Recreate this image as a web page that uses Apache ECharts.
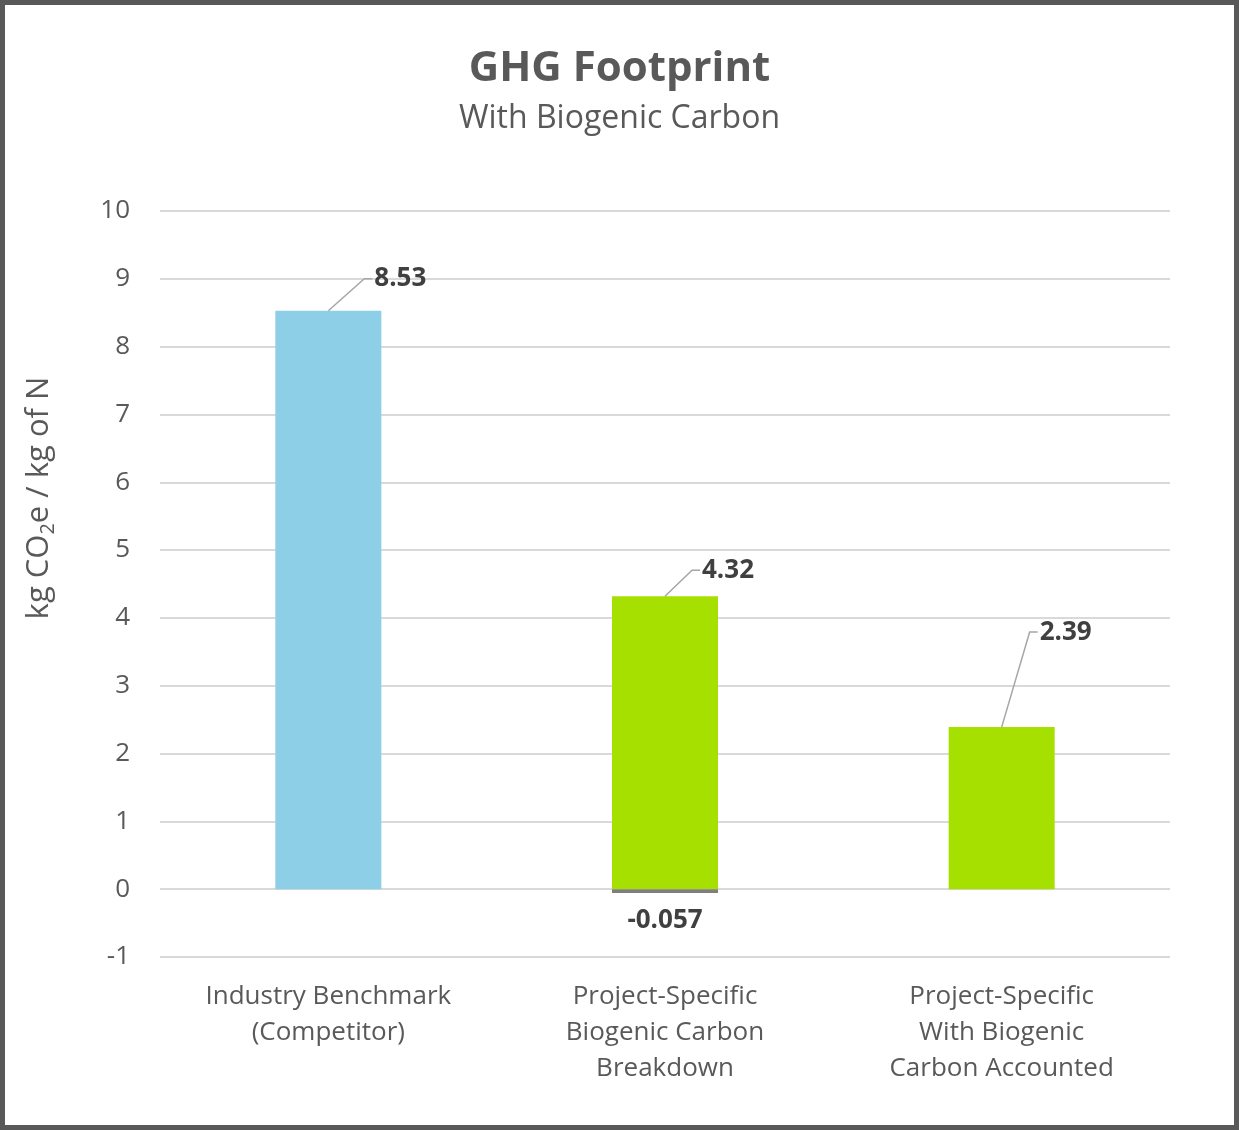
<!DOCTYPE html>
<html lang="en">
<head>
    <meta charset="UTF-8">
    <title>GHG Footprint</title>
    <script src="https://cdn.jsdelivr.net/npm/echarts@6/dist/echarts.min.js"></script>
    <style>
        html, body { margin: 0; padding: 0; background: #fff; }
        #chart { width: 1239px; height: 1130px; }
    </style>
</head>
<body>
<div id="chart"></div>
<script>
    // data
    const categories = [
        'Industry Benchmark\n(Competitor)',
        'Project-Specific\nBiogenic Carbon\nBreakdown',
        'Project-Specific\nWith Biogenic\nCarbon Accounted'
    ];
    const mainValues = [8.53, 4.32, 2.39];
    const biogenicValues = [null, -0.057, null];
    const barColors = ['#8ccfe6', '#a5e000', '#a5e000'];
    // label offset from the bar's top centre (px)
    const labelShift = [[46, -32], [37, -26], [38, -95]];

    const textColor = '#595959';
    const fontFamily = '"Open Sans", sans-serif';

    let chart = echarts.init(document.getElementById('chart'));

    let option = {
        animation: false,
        backgroundColor: '#fff',
        textStyle: { fontFamily: fontFamily },
        title: {
            text: 'GHG Footprint',
            subtext: 'With Biogenic Carbon',
            left: 'center',
            top: 45,
            padding: 0,
            itemGap: 7,
            textStyle: { fontSize: 42, fontWeight: 'bold', color: textColor, lineHeight: 48, fontFamily: fontFamily },
            subtextStyle: { fontSize: 32, color: textColor, lineHeight: 38, fontFamily: fontFamily }
        },
        graphic: [{
            type: 'rect',
            shape: { x: 2.5, y: 2.5, width: 1234, height: 1125 },
            style: { fill: 'none', stroke: '#595959', lineWidth: 5 },
            silent: true
        }],
        grid: { left: 160, right: 69, top: 211, bottom: 173 },
        xAxis: {
            type: 'category',
            data: categories,
            axisLine: { show: false },
            axisTick: { show: false },
            axisLabel: {
                interval: 0,
                margin: 22,
                fontSize: 26,
                lineHeight: 36,
                color: textColor
            }
        },
        yAxis: {
            type: 'value',
            min: -1,
            max: 10,
            interval: 1,
            name: 'kg CO{sub|2}e / kg of N',
            nameLocation: 'middle',
            nameGap: 102,
            nameTextStyle: {
                fontSize: 31,
                color: textColor,
                padding: [0, 0, 0, 172],
                rich: {
                    sub: { fontSize: 20, color: textColor, verticalAlign: 'bottom', padding: [17, 0, 0, 0] }
                }
            },
            axisLine: { show: false },
            axisTick: { show: false },
            axisLabel: { fontSize: 26, color: textColor, margin: 30 },
            splitLine: { lineStyle: { color: '#d9d9d9', width: 2 } }
        },
        series: [
            {
                name: 'Footprint',
                type: 'bar',
                stack: 'total',
                barWidth: 106,
                data: mainValues.map(function (v, i) {
                    return { value: v, itemStyle: { color: barColors[i] } };
                }),
                label: {
                    show: true,
                    position: 'top',
                    fontSize: 26,
                    fontWeight: 'bold',
                    color: '#404040'
                },
                labelLayout: function (params) {
                    let s = labelShift[params.dataIndex];
                    let r = params.rect;
                    return {
                        x: r.x + r.width / 2 + s[0],
                        y: Math.min(r.y, r.y + r.height) + s[1],
                        align: 'left',
                        verticalAlign: 'middle'
                    };
                }
            },
            {
                name: 'Biogenic Carbon',
                type: 'bar',
                stack: 'total',
                barWidth: 106,
                data: biogenicValues,
                itemStyle: { color: '#7f7f7f' },
                label: {
                    show: true,
                    position: 'bottom',
                    distance: 15,
                    fontSize: 26,
                    fontWeight: 'bold',
                    color: '#404040'
                }
            },
            {
                // leader lines from each bar top to its value label
                name: 'leaders',
                type: 'custom',
                silent: true,
                z: 5,
                data: mainValues.map(function (v, i) { return [i, v]; }),
                renderItem: function (params, api) {
                    let p = api.coord([api.value(0), api.value(1)]);
                    let s = labelShift[params.dataIndex];
                    let lx = p[0] + s[0];
                    let ly = p[1] + s[1];
                    return {
                        type: 'polyline',
                        shape: { points: [[p[0], p[1]], [lx - 10, ly], [lx - 2, ly]] },
                        style: { stroke: '#a6a6a6', lineWidth: 1.5, fill: null }
                    };
                }
            }
        ]
    };

    chart.setOption(option);
</script>
</body>
</html>
